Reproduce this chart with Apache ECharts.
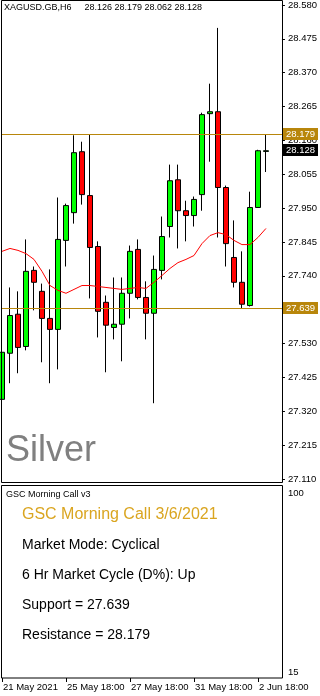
<!DOCTYPE html>
<html>
<head>
<meta charset="utf-8">
<script src="https://cdn.jsdelivr.net/npm/echarts@6/dist/echarts.min.js"></script>
<style>
  html, body { margin: 0; padding: 0; background: #fff; }
  #chart { width: 320px; height: 696px; }
</style>
</head>
<body>
<div id="chart"></div>
<script>
// H6 bars, 21 May - 3 Jun 2021 (two empty slots on the right like MT4 shift)
var times = ['21 May 2021', '24 May 00:00', '24 May 06:00', '24 May 12:00', '24 May 18:00', '25 May 00:00',
  '25 May 06:00', '25 May 12:00', '25 May 18:00', '26 May 00:00', '26 May 06:00', '26 May 12:00',
  '26 May 18:00', '27 May 00:00', '27 May 06:00', '27 May 12:00', '27 May 18:00', '28 May 00:00',
  '28 May 06:00', '28 May 12:00', '28 May 18:00', '31 May 00:00', '31 May 06:00', '31 May 12:00',
  '31 May 18:00', '1 Jun 00:00', '1 Jun 06:00', '1 Jun 12:00', '1 Jun 18:00', '2 Jun 00:00',
  '2 Jun 06:00', '2 Jun 12:00', '2 Jun 18:00', '3 Jun 00:00', '', ''];

var opens = [27.357, 27.500, 27.621, 27.521, 27.757, 27.692, 27.608, 27.574, 27.850, 27.936, 28.125, 27.989,
  27.831, 27.658, 27.580, 27.590, 27.686, 27.822, 27.673, 27.624, 27.757, 27.893, 28.038, 27.942,
  27.927, 27.992, 28.243, 28.249, 28.014, 27.797, 27.720, 27.648, 27.952, 28.126];
var highs = [27.552, 27.704, 27.692, 27.853, 27.769, 27.716, 27.760, 27.983, 27.964, 28.176, 28.156, 28.179,
  27.847, 27.679, 27.735, 27.735, 27.834, 27.853, 27.723, 27.803, 27.924, 28.085, 28.085, 27.973,
  27.986, 28.246, 28.336, 28.509, 28.020, 27.912, 27.816, 28.001, 28.131, 28.179];
var lows = [27.138, 27.407, 27.438, 27.509, 27.633, 27.472, 27.407, 27.450, 27.769, 27.902, 27.961, 27.670,
  27.549, 27.441, 27.543, 27.475, 27.608, 27.667, 27.543, 27.345, 27.729, 27.859, 27.825, 27.847,
  27.893, 27.942, 28.094, 27.859, 27.769, 27.704, 27.639, 27.645, 27.952, 28.062];
var closes = [27.503, 27.617, 27.518, 27.754, 27.720, 27.608, 27.574, 27.853, 27.958, 28.122, 27.992, 27.828,
  27.630, 27.587, 27.590, 27.686, 27.816, 27.673, 27.624, 27.760, 27.862, 28.035, 27.942, 27.927,
  27.977, 28.240, 28.249, 28.014, 27.840, 27.720, 27.652, 27.952, 28.128, 28.128];
var ma = [27.816, 27.825, 27.819, 27.809, 27.791, 27.754, 27.710, 27.695, 27.686, 27.698, 27.710, 27.710,
  27.707, 27.704, 27.701, 27.698, 27.701, 27.704, 27.701, 27.720, 27.741, 27.763, 27.781, 27.791,
  27.803, 27.840, 27.865, 27.874, 27.868, 27.850, 27.837, 27.837, 27.859, 27.887];

var support = 27.639;
var resistance = 28.179;
var lastPrice = 28.128;

var panelLines = [
  'Market Mode: Cyclical',
  '6 Hr Market Cycle (D%): Up',
  'Support = 27.639',
  'Resistance = 28.179'
];

var FONT = '"Liberation Sans", Arial, sans-serif';
var GOLD = '#b8860b';

var candles = opens.map(function (o, i) {
  return [o, closes[i], lows[i], highs[i]];
});

function tickAt(idx) {
  return idx % 8 === 0 && idx <= 32;
}

function priceTag(value, bg, lineColor) {
  return {
    yAxis: value,
    lineStyle: { color: lineColor, width: 1, type: 'solid' },
    label: { backgroundColor: bg, formatter: value.toFixed(3) }
  };
}

var chart = echarts.init(document.getElementById('chart'));

var graphics = [
  { type: 'rect', shape: { x: 1.5, y: 0.5, width: 281, height: 482 },
    style: { fill: null, stroke: '#000', lineWidth: 1 }, z: 10 },
  { type: 'rect', shape: { x: 1.5, y: 485.5, width: 281, height: 192.5 },
    style: { fill: null, stroke: '#000', lineWidth: 1 }, z: 10 },
  { type: 'text', x: 6, y: 451,
    style: { text: 'Silver', fill: '#808080', font: '36px ' + FONT, verticalAlign: 'middle' } },
  { type: 'text', x: 6, y: 495,
    style: { text: 'GSC Morning Call v3', fill: '#000', font: '9px ' + FONT, verticalAlign: 'middle' } },
  { type: 'text', x: 22, y: 515,
    style: { text: 'GSC Morning Call 3/6/2021', fill: '#daa520', font: '16px ' + FONT, verticalAlign: 'middle' } }
];
panelLines.forEach(function (t, i) {
  graphics.push({ type: 'text', x: 22, y: 545 + i * 30,
    style: { text: t, fill: '#000', font: '14px ' + FONT, verticalAlign: 'middle' } });
});

var option = {
  animation: false,
  backgroundColor: '#fff',
  title: {
    text: '{a|XAGUSD.GB,H6}{b|28.126 28.179 28.062 28.128}',
    left: 4, top: 3, padding: 0,
    textStyle: {
      fontSize: 9, fontWeight: 'normal', color: '#000', fontFamily: FONT,
      rich: {
        a: { fontSize: 9, color: '#000', fontFamily: FONT },
        b: { fontSize: 9, color: '#000', fontFamily: FONT, padding: [0, 0, 0, 13] }
      }
    }
  },
  grid: [
    { left: 2, right: 38, top: 4, bottom: 217 },
    { left: 2, right: 38, top: 493, bottom: 24 }
  ],
  xAxis: [
    { type: 'category', gridIndex: 0, data: times, boundaryGap: false, show: false },
    { type: 'category', gridIndex: 1, data: times, boundaryGap: false, offset: 6,
      axisLine: { show: false },
      axisTick: { show: true, interval: tickAt, length: 4, lineStyle: { color: '#000' } },
      axisLabel: { interval: tickAt, align: 'left', margin: 4, fontSize: 9.5, color: '#000',
        fontFamily: FONT, padding: [0, 0, 0, 1] },
      splitLine: { show: false } }
  ],
  yAxis: [
    { type: 'value', gridIndex: 0, position: 'right', min: 27.11, max: 28.58, interval: 0.105,
      axisLine: { show: true, lineStyle: { color: '#000' } },
      axisTick: { show: true, length: 3, lineStyle: { color: '#000' } },
      axisLabel: { fontSize: 9.5, color: '#000', fontFamily: FONT, margin: 6,
        formatter: function (v) { return v.toFixed(3); } },
      splitLine: { show: false } },
    { type: 'value', gridIndex: 1, position: 'right', min: 15, max: 100, interval: 85,
      axisLine: { show: false }, axisTick: { show: false },
      axisLabel: { fontSize: 9.5, color: '#000', fontFamily: FONT, margin: 6 },
      splitLine: { show: false } }
  ],
  graphic: graphics,
  series: [
    {
      type: 'candlestick',
      xAxisIndex: 0, yAxisIndex: 0,
      data: candles,
      barWidth: 5,
      itemStyle: {
        color: '#00ff00', color0: '#ff0000',
        borderColor: '#000', borderColor0: '#000', borderWidth: 1
      },
      markLine: {
        symbol: 'none',
        silent: true,
        animation: false,
        label: {
          position: 'end', distance: 1, color: '#fff', fontSize: 9.5, fontFamily: FONT,
          padding: [1, 3, 1, 3]
        },
        data: [
          priceTag(resistance, GOLD, GOLD),
          priceTag(support, GOLD, GOLD),
          priceTag(lastPrice, '#000', 'rgba(0,0,0,0)')
        ]
      }
    },
    {
      type: 'line',
      xAxisIndex: 0, yAxisIndex: 0,
      data: ma,
      symbol: 'none',
      lineStyle: { color: '#ff0000', width: 1 },
      z: 3
    },
    {
      type: 'line',
      xAxisIndex: 1, yAxisIndex: 1,
      data: []
    }
  ]
};

chart.setOption(option);
</script>
</body>
</html>
